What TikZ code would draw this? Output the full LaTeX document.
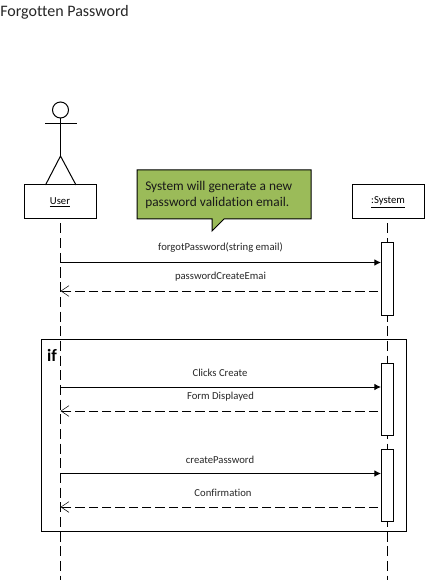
\documentclass[tikz,border=0pt]{standalone}
\usepackage{fontspec}
\setmainfont[Ligatures=CommonOff]{Carlito}
\usetikzlibrary{arrows.meta}
\definecolor{notegreen}{RGB}{155,187,89}
\tikzset{
  x=0.75pt,y=-0.75pt,
  objbox/.style={draw=black,line width=0.75pt,fill=white,minimum width=54pt,minimum height=25.5pt,inner sep=0pt,font=\fontsize{8}{10}\selectfont},
  actbox/.style={draw=black,line width=0.75pt,fill=white,minimum width=9pt,minimum height=54pt,inner sep=0pt},
  lifeline/.style={line width=0.75pt,dash pattern=on 7.5pt off 3.5pt},
  callmsg/.style={line width=0.75pt,-{Latex[length=5pt,width=5pt]}},
  retmsg/.style={line width=0.75pt,dash pattern=on 7pt off 3pt,-{Straight Barb[length=6pt,width=8pt,line width=0.4pt]}},
  msglabel/.style={font=\fontsize{8}{10}\selectfont,text=black!85,inner sep=0pt,anchor=center},
  stick/.style={line width=0.75pt}
}
\begin{document}
\begin{tikzpicture}
\useasboundingbox (0,0) rectangle (424,580);
\node[anchor=west,inner sep=0pt,font=\fontsize{12}{14}\selectfont,text=black!85] (title) at (0,12.5) {Forgotten Password};

\coordinate (uend) at (60.5,580);
\coordinate (send) at (387.5,580);

% frame
\node[draw=black,line width=0.75pt,minimum width=273.75pt,minimum height=144pt,inner sep=0pt] (frame) at (224,435) {};
\node[inner sep=0pt,font=\bfseries\fontsize{13}{15}\selectfont] (iflabel) at (52,355) {if};

% objects
\node[objbox] (user) at (60,202) {\underline{User}};
\node[objbox] (system) at (388,202) {\underline{:System}};

% lifelines
\draw[lifeline] (user.south -| uend) ++(0,4) -- (uend);
\draw[lifeline] (system.south -| send) ++(0,4) -- (send);

% actor
\draw[stick] (60.5,110) circle (8);
\coordinate (neck) at (60.5,118);
\coordinate (hip) at (60.5,156);
\draw[stick] (neck) -- (hip);
\draw[stick] (45,124) -- (76.5,124);
\draw[stick] (45.5,185) -- (hip) -- (76,185);

% activations
\node[actbox] (a1) at (387.5,279) {};
\node[actbox] (a2) at (387.5,399) {};
\node[actbox] (a3) at (387.5,485) {};

% note
\draw[draw=black,line width=0.75pt,fill=notegreen] (137,170) -- (311,170) -- (311,219) -- (224,219) -- (212,231) -- (212,219) -- (137,219) -- cycle;
\node[anchor=west,align=left,inner sep=0pt,font=\fontsize{10}{12}\selectfont,text=black!90] (notetext) at (145,195) {System will generate a new\\password validation email.};

% messages
\coordinate (m1u) at (60.5,262.5); \coordinate (m1s) at (a1.west |- m1u);
\coordinate (m2u) at (60.5,291);   \coordinate (m2s) at (378,291);
\coordinate (m3u) at (60.5,387);   \coordinate (m3s) at (a2.west |- m3u);
\coordinate (m4u) at (60.5,411);   \coordinate (m4s) at (378,411);
\coordinate (m5u) at (60.5,473.5); \coordinate (m5s) at (a3.west |- m5u);
\coordinate (m6u) at (60.5,507);   \coordinate (m6s) at (378,507);
\draw[callmsg] (m1u) -- (m1s);
\draw[retmsg] (m2s) -- (m2u);
\draw[callmsg] (m3u) -- (m3s);
\draw[retmsg] (m4s) -- (m4u);
\draw[callmsg] (m5u) -- (m5s);
\draw[retmsg] (m6s) -- (m6u);

\node[msglabel] (l1) at (220.5,247.5) {forgotPassword(string email)};
\node[msglabel] (l2) at (220.5,277) {passwordCreateEmai};
\node[msglabel] (l3) at (220,372.5) {Clicks Create};
\node[msglabel] (l4) at (220.5,397) {Form Displayed};
\node[msglabel] (l5) at (220,459.5) {createPassword};
\node[msglabel] (l6) at (223,493) {Confirmation};
\end{tikzpicture}
\end{document}
